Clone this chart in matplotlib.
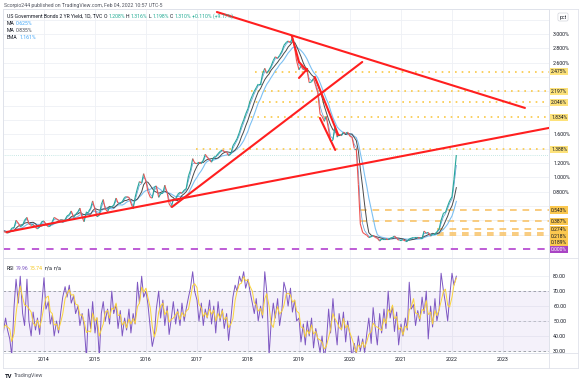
import numpy as np
import pandas as pd
import matplotlib
matplotlib.use("Agg")
import matplotlib.pyplot as plt
from matplotlib.collections import LineCollection
from matplotlib.lines import Line2D
from matplotlib.transforms import blended_transform_factory

plt.rcParams['font.family'] = ['Roboto', 'DejaVu Sans']

# ---------- data (semi-monthly closes of the US 2Y yield, %) ----------
y2013 = [0.26, 0.25, 0.23, 0.22, 0.24, 0.29, 0.30, 0.40, 0.36, 0.31,
         0.33, 0.40, 0.44, 0.35, 0.33, 0.34, 0.30, 0.28, 0.31, 0.38]
y2014 = [0.39, 0.34, 0.31, 0.32, 0.38, 0.44, 0.42, 0.40, 0.39, 0.37, 0.41, 0.46,
         0.48, 0.53, 0.44, 0.48, 0.52, 0.57, 0.44, 0.38, 0.52, 0.52, 0.57, 0.67]
y2015 = [0.55, 0.45, 0.47, 0.62, 0.69, 0.56, 0.52, 0.58, 0.59, 0.61, 0.71, 0.64,
         0.64, 0.66, 0.72, 0.73, 0.72, 0.64, 0.56, 0.72, 0.85, 0.94, 0.92, 1.05]
y2016 = [0.94, 0.80, 0.72, 0.71, 0.86, 0.88, 0.72, 0.77, 0.78, 0.89, 0.78, 0.63,
         0.58, 0.70, 0.70, 0.76, 0.79, 0.78, 0.82, 0.84, 1.02, 1.10, 1.26, 1.20]
y2017 = [1.19, 1.21, 1.19, 1.24, 1.32, 1.28, 1.24, 1.21, 1.28, 1.29, 1.33, 1.36,
         1.38, 1.36, 1.35, 1.30, 1.33, 1.44, 1.49, 1.54, 1.63, 1.72, 1.80, 1.88]
y2018 = [1.96, 2.06, 2.14, 2.20, 2.25, 2.30, 2.30, 2.44, 2.52, 2.45, 2.50, 2.55,
         2.63, 2.68, 2.66, 2.70, 2.76, 2.84, 2.88, 2.90, 2.88, 2.95, 2.80, 2.62]
y2019 = [2.50, 2.55, 2.50, 2.52, 2.47, 2.32, 2.33, 2.38, 2.27, 2.18, 1.88, 1.85,
         1.78, 1.85, 1.66, 1.50, 1.52, 1.72, 1.56, 1.60, 1.58, 1.63, 1.61, 1.63]
y2020 = [1.57, 1.56, 1.40, 1.40, 0.90, 0.35, 0.23, 0.21, 0.19, 0.16, 0.17, 0.19,
         0.16, 0.15, 0.11, 0.14, 0.14, 0.14, 0.13, 0.15, 0.16, 0.18, 0.15, 0.12]
y2021 = [0.12, 0.13, 0.11, 0.11, 0.14, 0.15, 0.16, 0.16, 0.16, 0.15, 0.15, 0.25,
         0.22, 0.23, 0.18, 0.21, 0.21, 0.24, 0.28, 0.40, 0.50, 0.51, 0.60, 0.67]
y2022 = [0.73, 0.97, 1.31]
yield_close = y2013 + y2014 + y2015 + y2016 + y2017 + y2018 + y2019 + y2020 + y2021 + y2022

rsi_vals = [
    48, 42, 52, 44, 38, 27, 60, 78, 62, 80,
    55, 47, 78, 50, 40, 56, 44, 52, 41, 60,
    79, 58, 63, 48, 54, 40, 50, 42, 56, 66,
    73, 66, 74, 62, 67, 55, 60, 47, 55, 47,
    25, 58, 45, 63, 42, 52, 26, 55, 63, 50,
    58, 48, 70, 55, 61, 45, 57, 40, 52, 44,
    58, 42, 55, 48, 76, 62, 80, 66, 70, 61,
    45, 33, 40, 58, 70, 52, 64, 47, 60, 41,
    52, 63, 48, 58, 47, 62, 50, 58, 66, 72,
    83, 70, 64, 50, 62, 47, 58, 52, 64, 48,
    60, 42, 63, 50, 58, 45, 55, 37, 52, 66,
    74, 70, 80, 76, 83, 72, 78, 70, 62, 55,
    65, 50, 60, 52, 83, 70, 27, 48, 62, 52,
    65, 47, 58, 76, 70, 60, 72, 56, 64, 50,
    52, 36, 48, 34, 50, 40, 52, 32, 45, 38,
    29, 40, 25, 34, 58, 42, 65, 48, 34, 55,
    44, 56, 36, 50, 40, 25, 35, 27, 40, 30,
    38, 29, 42, 52, 35, 59, 45, 34, 55, 42,
    58, 45, 70, 52, 60, 43, 56, 34, 48, 40,
    52, 44, 76, 58, 61, 47, 57, 50, 66, 55,
    70, 38, 60, 46, 65, 50, 58, 82, 70, 62,
    50, 66, 82, 74, 80]

# horizontal levels drawn on the chart
dotted_levels = [2.475, 2.197, 2.046, 1.834, 1.388]
dotted_start = [2018.14, 2018.06, 2018.02, 2017.93, 2016.98]
dashed_levels = [0.543, 0.387, 0.274, 0.218, 0.189]
dashed_start = [2020.2, 2020.2, 2021.7, 2021.7, 2021.7]
last_close = 1.31

# red trend lines: (year, pct) -> (year, pct)
trend_lines = [
    ((2017.39, 3.305), (2023.43, 1.967)),
    ((2013.27, 0.237), (2023.90, 1.688)),
    ((2016.51, 0.586), (2020.24, 2.608)),
    ((2018.86, 2.971), (2019.00, 2.608)),
    ((2019.00, 2.608), (2019.16, 2.483)),
    ((2019.00, 2.385), (2019.16, 2.510)),
    ((2019.31, 2.399), (2019.77, 1.590)),
    ((2019.41, 1.827), (2019.71, 1.381)),
]

years = list(range(2014, 2024))

# ---------- derived series ----------
dates = pd.date_range('2013-03-01', periods=len(yield_close), freq='SMS')
t = dates.year + (dates.dayofyear - 1) / np.where(dates.is_leap_year, 366, 365)
t = np.asarray(t, dtype=float)
s = pd.Series(yield_close)
ma_slow = s.rolling(9, min_periods=1).mean()
ma_mid = s.rolling(5, min_periods=1).mean()
ema = s.ewm(span=2).mean()
rsi_ma = pd.Series(rsi_vals).rolling(3, min_periods=1).mean()

# ---------- figure ----------
W, H = 580, 383
fig = plt.figure(figsize=(5.8, 3.83), dpi=100)
fig.patch.set_facecolor('white')

def fx(px):
    return px / W

def fy(py):
    return 1 - py / H

ax = fig.add_axes([fx(3), fy(258), fx(546), 249 / H])
axr = fig.add_axes([fx(3), fy(353), fx(546), 95 / H])
XL = (2013.196, 2023.902)
YL = (-0.126, 3.347)
grid_c = '#eef0f5'
frame_c = '#dfe2ea'

for a in (ax, axr):
    a.set_xlim(*XL)
    for sp in a.spines.values():
        sp.set_color(frame_c)
        sp.set_linewidth(0.6)
    a.yaxis.tick_right()
    a.tick_params(length=0, labelsize=3.8, labelcolor='#131722', pad=3)
    a.set_xticks(years)
    a.grid(True, color=grid_c, lw=0.6)
    a.set_axisbelow(True)

ax.set_ylim(*YL)
ticks = np.round(np.arange(0.2, 3.21, 0.2), 1)
ax.set_yticks(ticks)

# tick labels hidden behind the level boxes (and the "pct" badge) are left blank
px_per = 249 / (YL[1] - YL[0])
def ypx(v):
    return 9 + (YL[1] - v) * px_per
box_px = [ypx(v) for v in dotted_levels + dashed_levels + [0.0]] + [17]
tick_lbls = []
for v in ticks:
    hidden = any(abs(ypx(v) - b) < 7 for b in box_px)
    tick_lbls.append('' if hidden else f'{v:.3f}%')
ax.set_yticklabels(tick_lbls)
ax.tick_params(axis='x', labelbottom=False)

# price as up/down coloured segments
pts = np.column_stack([t, yield_close])
segs = np.stack([pts[:-1], pts[1:]], axis=1)
cols = ['#26a69a' if b >= a else '#ef5350' for a, b in zip(yield_close[:-1], yield_close[1:])]
ax.add_collection(LineCollection(segs, colors=cols, linewidths=0.8, zorder=4))

ax.plot(t, ma_slow, color='#7cc0f2', lw=0.8, zorder=3)
ax.plot(t, ma_mid, color='#4a4a4a', lw=0.7, zorder=3)
ax.plot(t, ema, color='#5c9bd6', lw=0.5, zorder=3)

# horizontal levels
for lv, x0 in zip(dotted_levels, dotted_start):
    ax.plot([x0, XL[1]], [lv, lv], color='#f9c846', lw=1.2, ls=(0, (1, 3)), zorder=2)
for lv, x0 in zip(dashed_levels, dashed_start):
    ax.plot([x0, XL[1]], [lv, lv], color='#f8c469', lw=1.2, ls=(0, (4, 3.5)), zorder=2)
ax.plot(XL, [0, 0], color='#b94fd3', lw=1.3, ls=(0, (4, 4)), zorder=2)
ax.plot(XL, [last_close, last_close], color='#26a69a', lw=0.5, ls=(0, (1, 2)), alpha=0.5, zorder=2)

for (x0, y0), (x1, y1) in trend_lines:
    ax.plot([x0, x1], [y0, y1], color='#ff1f1f', lw=1.5, solid_capstyle='round', zorder=6)

# label boxes on the price scale
tr = blended_transform_factory(ax.transAxes, ax.transData)
def level_label(y, text, fc, tc='#131722'):
    ax.text(1.004, y, text, transform=tr, ha='left', va='center', fontsize=3.6,
            color=tc, clip_on=False, zorder=10,
            bbox=dict(boxstyle='square,pad=0.22', fc=fc, ec='none'))

for lv in dotted_levels:
    level_label(lv, f'{lv:.3f}%', '#fde27a')
prev = None
for lv in dashed_levels:
    ypos = lv if prev is None else min(lv, prev - 0.095)
    level_label(ypos, f'{lv:.3f}%', '#fbc84f')
    prev = ypos
level_label(-0.01, '0.000%', '#a944c4', 'white')
fig.text(fx(563), fy(17), 'pct', fontsize=3.6, color='#131722', ha='center', va='center',
         bbox=dict(boxstyle='round,pad=0.3', fc='white', ec='#c8cbd3', lw=0.4))

# ---------- RSI pane ----------
axr.set_ylim(28.6, 92.2)
rt = [30, 40, 50, 60, 70, 80]
axr.set_yticks(rt)
axr.set_yticklabels([f'{v:.2f}' for v in rt])
axr.axhspan(30, 70, color='#7e57c2', alpha=0.08, lw=0)
for lv, al in ((70, 1), (50, 0.6), (30, 1)):
    axr.axhline(lv, color='#9598a1', lw=0.6, ls=(0, (3, 3)), alpha=al)
axr.plot(t, rsi_vals, color='#7e57c2', lw=0.7, zorder=3)
axr.plot(t, rsi_ma, color='#fbd43a', lw=0.7, zorder=4)
axr.set_xticklabels([str(y) for y in years])
axr.tick_params(axis='x', pad=3)

# ---------- frame ----------
def hline(py, x0=3, x1=578):
    fig.add_artist(Line2D([fx(x0), fx(x1)], [fy(py), fy(py)], color=frame_c, lw=0.6))
def vline(px, y0=9, y1=368):
    fig.add_artist(Line2D([fx(px), fx(px)], [fy(y0), fy(y1)], color=frame_c, lw=0.6))
hline(9); hline(258); hline(353); hline(368)
vline(3); vline(549); vline(578)

# ---------- texts ----------
fig.canvas.draw()
rend = fig.canvas.get_renderer()

def rich(px, py, pieces, size=3.7, gap=1.5):
    x = fx(px)
    for txt, c in pieces:
        tt = fig.text(x, fy(py), txt, color=c, fontsize=size, va='center', ha='left')
        x += (tt.get_window_extent(rend).width + gap) / W

fig.text(fx(4), fy(5), 'Scorpio244 published on TradingView.com, Feb 04, 2022 10:57 UTC-5',
         fontsize=3.7, color='#50535e', va='center')
teal = '#22ab94'
rich(7, 16, [('US Government Bonds 2 YR Yield, 1D, TVC', '#131722'),
             ('O', '#131722'), ('1.208%', teal), ('H', '#131722'), ('1.316%', teal),
             ('L', '#131722'), ('1.198%', teal), ('C', '#131722'), ('1.310%', teal),
             ('+0.110% (+9.17%)', teal)], gap=1.2)
rich(7, 23.5, [('MA', '#131722'), ('0.625%', '#42a5f5')])
rich(7, 30.5, [('MA', '#131722'), ('0.835%', '#434651')])
rich(7, 37.5, [('EMA', '#131722'), ('1.161%', '#42a5f5')])
rich(7, 268, [('RSI', '#131722'), ('79.96', '#7e57c2'), ('75.74', '#f5c518'), ('n/a', '#131722'), ('n/a', '#131722')])

fig.text(fx(5), fy(376), 'TV', fontsize=4.2, fontweight='bold', color='#131722', va='center')
fig.text(fx(14), fy(376), 'TradingView', fontsize=3.8, color='#50535e', va='center')

fig.savefig('out.png', dpi=100)
